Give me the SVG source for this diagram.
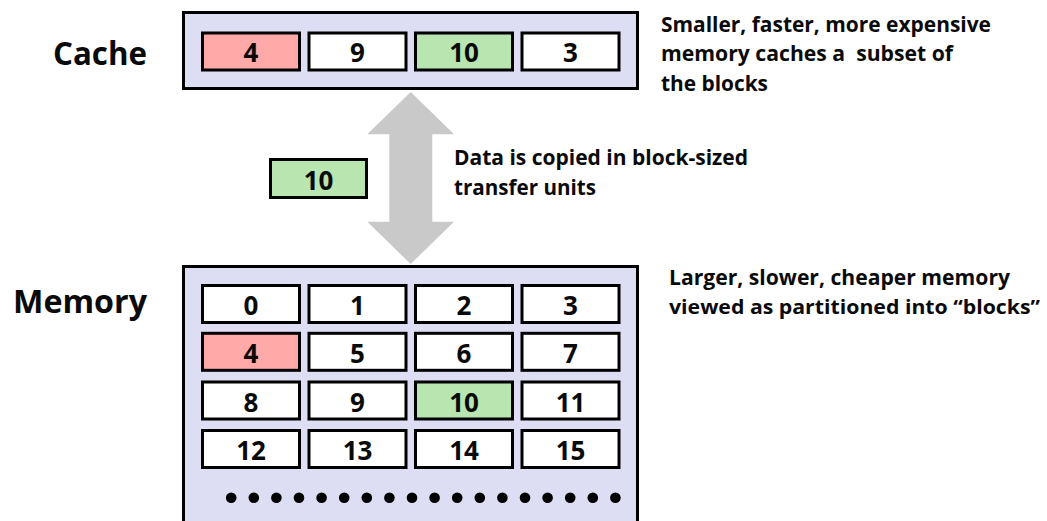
<svg xmlns="http://www.w3.org/2000/svg" width="1047" height="521" viewBox="0 0 1047 521">
<style>
text{font-family:"Open Sans","Liberation Sans",sans-serif;font-weight:bold;fill:#0a0a0a}
.title{font-size:33px}
.desc{font-size:21px}
.num{font-size:26px;text-anchor:middle}
.box{fill:#DDDDF4;stroke:#000;stroke-width:3}
.cell{fill:#fff;stroke:#000;stroke-width:3}
.red{fill:#FFA9A9}
.green{fill:#B8E5B0}
.dot{fill:#000}
</style>
<rect width="1047" height="521" fill="#fff"/>
<g id="labels">
<text class="title" x="53" y="65" textLength="94" lengthAdjust="spacingAndGlyphs">Cache</text>
<text class="title" x="13" y="313" textLength="134" lengthAdjust="spacingAndGlyphs">Memory</text>
<text class="desc" x="661" y="31.5" textLength="330" lengthAdjust="spacingAndGlyphs">Smaller, faster, more expensive</text>
<text class="desc" x="661" y="61" xml:space="preserve" style="white-space:pre" textLength="292" lengthAdjust="spacingAndGlyphs">memory caches a  subset of</text>
<text class="desc" x="661" y="90.5" textLength="107" lengthAdjust="spacingAndGlyphs">the blocks</text>
<text class="desc" x="454" y="164.5" textLength="294" lengthAdjust="spacingAndGlyphs">Data is copied in block-sized</text>
<text class="desc" x="454" y="194.5" textLength="142" lengthAdjust="spacingAndGlyphs">transfer units</text>
<text class="desc" x="669" y="284.5" textLength="341" lengthAdjust="spacingAndGlyphs">Larger, slower, cheaper memory</text>
<text class="desc" x="669" y="313.5" style="font-size:20px" textLength="371" lengthAdjust="spacingAndGlyphs">viewed as partitioned into “blocks”</text>
</g>
<g id="connectors">
<polygon points="410.7,92 454,134.3 432.3,134.3 432.3,221.7 454,221.7 410.7,264 367.3,221.7 389.3,221.7 389.3,134.3 367.3,134.3" fill="#C9C9C9"/>
</g>
<g id="cache">
<rect class="box" x="183.5" y="12.5" width="454" height="76"/>
<g id="cache-4"><rect class="cell red" x="202.5" y="33" width="97" height="37"/><text class="num" x="251" y="62">4</text></g>
<g id="cache-9"><rect class="cell" x="309" y="33" width="97" height="37"/><text class="num" x="357.5" y="62">9</text></g>
<g id="cache-10"><rect class="cell green" x="415.5" y="33" width="97" height="37"/><text class="num" x="464" y="62">10</text></g>
<g id="cache-3"><rect class="cell" x="522" y="33" width="97" height="37"/><text class="num" x="570.5" y="62">3</text></g>
</g>
<g id="transfer-block">
<rect class="cell green" x="270.5" y="159.5" width="96" height="38"/><text class="num" x="318.5" y="189.5">10</text>
</g>
<g id="memory">
<rect class="box" x="183.5" y="266.5" width="454" height="270"/>
<g id="mem-row0">
<rect class="cell" x="202.5" y="285.5" width="97" height="37"/><text class="num" x="251" y="315">0</text>
<rect class="cell" x="309" y="285.5" width="97" height="37"/><text class="num" x="357.5" y="315">1</text>
<rect class="cell" x="415.5" y="285.5" width="97" height="37"/><text class="num" x="464" y="315">2</text>
<rect class="cell" x="522" y="285.5" width="97" height="37"/><text class="num" x="570.5" y="315">3</text>
</g>
<g id="mem-row1">
<rect class="cell red" x="202.5" y="333.3" width="97" height="37"/><text class="num" x="251" y="363">4</text>
<rect class="cell" x="309" y="333.3" width="97" height="37"/><text class="num" x="357.5" y="363">5</text>
<rect class="cell" x="415.5" y="333.3" width="97" height="37"/><text class="num" x="464" y="363">6</text>
<rect class="cell" x="522" y="333.3" width="97" height="37"/><text class="num" x="570.5" y="363">7</text>
</g>
<g id="mem-row2">
<rect class="cell" x="202.5" y="382" width="97" height="37"/><text class="num" x="251" y="411.5">8</text>
<rect class="cell" x="309" y="382" width="97" height="37"/><text class="num" x="357.5" y="411.5">9</text>
<rect class="cell green" x="415.5" y="382" width="97" height="37"/><text class="num" x="464" y="411.5">10</text>
<rect class="cell" x="522" y="382" width="97" height="37"/><text class="num" x="570.5" y="411.5">11</text>
</g>
<g id="mem-row3">
<rect class="cell" x="202.5" y="430.5" width="97" height="37"/><text class="num" x="251" y="460">12</text>
<rect class="cell" x="309" y="430.5" width="97" height="37"/><text class="num" x="357.5" y="460">13</text>
<rect class="cell" x="415.5" y="430.5" width="97" height="37"/><text class="num" x="464" y="460">14</text>
<rect class="cell" x="522" y="430.5" width="97" height="37"/><text class="num" x="570.5" y="460">15</text>
</g>
<g id="ellipsis">
<circle class="dot" cx="231.2" cy="497.8" r="5.3"/>
<circle class="dot" cx="253.8" cy="497.8" r="5.3"/>
<circle class="dot" cx="276.4" cy="497.8" r="5.3"/>
<circle class="dot" cx="299.0" cy="497.8" r="5.3"/>
<circle class="dot" cx="321.6" cy="497.8" r="5.3"/>
<circle class="dot" cx="344.2" cy="497.8" r="5.3"/>
<circle class="dot" cx="366.8" cy="497.8" r="5.3"/>
<circle class="dot" cx="389.4" cy="497.8" r="5.3"/>
<circle class="dot" cx="412.0" cy="497.8" r="5.3"/>
<circle class="dot" cx="434.6" cy="497.8" r="5.3"/>
<circle class="dot" cx="457.2" cy="497.8" r="5.3"/>
<circle class="dot" cx="479.8" cy="497.8" r="5.3"/>
<circle class="dot" cx="502.4" cy="497.8" r="5.3"/>
<circle class="dot" cx="525.0" cy="497.8" r="5.3"/>
<circle class="dot" cx="547.6" cy="497.8" r="5.3"/>
<circle class="dot" cx="570.2" cy="497.8" r="5.3"/>
<circle class="dot" cx="592.8" cy="497.8" r="5.3"/>
<circle class="dot" cx="615.4" cy="497.8" r="5.3"/>
</g>
</g>
</svg>
